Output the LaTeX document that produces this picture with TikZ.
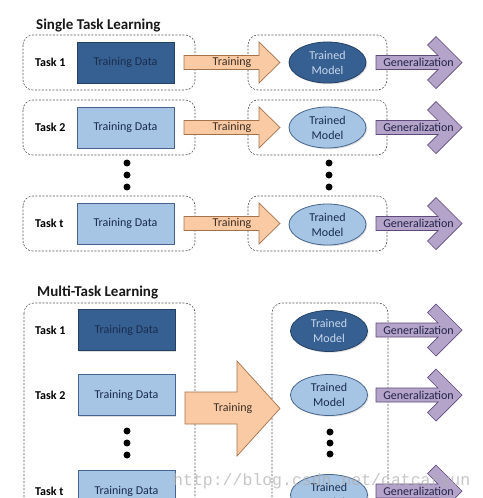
\documentclass[tikz,border=0pt]{standalone}
\usepackage{fontspec}
\setmainfont{Carlito}
\newfontfamily\wmfont{Liberation Mono}
\usetikzlibrary{shapes.geometric,shadows}
\definecolor{dkfill}{RGB}{54,96,146}
\definecolor{dkedge}{RGB}{36,64,98}
\definecolor{dktext}{RGB}{25,45,78}
\definecolor{dkmtext}{RGB}{200,215,235}
\definecolor{ltfill}{RGB}{166,196,228}
\definecolor{ltedge}{RGB}{70,100,140}
\definecolor{lttext}{RGB}{25,45,78}
\definecolor{peach}{RGB}{250,202,164}
\definecolor{peachedge}{RGB}{165,115,75}
\definecolor{peachtext}{RGB}{60,45,35}
\definecolor{lav}{RGB}{180,164,202}
\definecolor{lavedge}{RGB}{96,74,123}
\definecolor{lavtext}{RGB}{35,35,70}
\definecolor{dashgray}{RGB}{85,85,85}
\definecolor{wm}{RGB}{175,175,175}
\newcommand\TrainArrow[1]{%
  \draw[trainar] (184,{#1-7}) -- (259,{#1-7}) -- (259,{#1-20.5}) -- (280,#1)
    -- (259,{#1+20.5}) -- (259,{#1+7}) -- (184,{#1+7}) -- cycle;}
\newcommand\GenArrow[1]{%
  \draw[genar] (376,{#1-7}) -- (438,{#1-7}) -- (427.5,{#1-17.5}) -- (436,{#1-26})
    -- (462,#1) -- (436,{#1+26}) -- (427.5,{#1+17.5}) -- (438,{#1+7})
    -- (376,{#1+7}) -- cycle;}
\begin{document}
\begin{tikzpicture}[x=1pt,y=-1pt,
  grp/.style={draw=dashgray, line width=0.6pt, dash pattern=on 2pt off 1.5pt, rounded corners=10pt},
  tdbox/.style={rectangle, line width=0.8pt, minimum width=97pt, minimum height=41pt, inner sep=0pt,
    font=\fontsize{12}{14}\selectfont, drop shadow={shadow xshift=1.2pt, shadow yshift=-1.2pt, opacity=0.25}},
  tddark/.style={tdbox, fill=dkfill, draw=dkedge, text=dktext},
  tdlight/.style={tdbox, fill=ltfill, draw=ltedge, text=lttext},
  model/.style={ellipse, minimum width=77pt, minimum height=41pt, inner sep=0pt, align=center,
    font=\fontsize{12}{15}\selectfont, line width=0.8pt,
    drop shadow={shadow xshift=1.2pt, shadow yshift=-1.2pt, opacity=0.25}},
  mdark/.style={model, fill=dkfill, draw=dkedge, text=dkmtext},
  mlight/.style={model, fill=ltfill, draw=ltedge, text=lttext},
  tasklbl/.style={font=\bfseries\fontsize{12}{14}\selectfont, anchor=west, inner sep=0pt},
  ttl/.style={font=\bfseries\fontsize{15}{18}\selectfont, anchor=base west, inner sep=0pt, text=black!90},
  trainar/.style={fill=peach, draw=peachedge, line width=0.7pt},
  genar/.style={fill=lav, draw=lavedge, line width=0.7pt},
  trlbl/.style={font=\fontsize{12}{14}\selectfont, text=peachtext, inner sep=0pt},
  genlbl/.style={font=\fontsize{12}{14}\selectfont, text=lavtext, inner sep=0pt},
  dot/.style={circle, fill=black, inner sep=0pt, minimum size=7pt}
]
\useasboundingbox (0,0) rectangle (482,498);
\clip (0,0) rectangle (482,498);
\fill[white] (0,0) rectangle (482,498);

% ---------------- Single Task Learning ----------------
\node[ttl] (t1) at (36,29) {Single Task Learning};

% group boxes
\draw[grp] (23,35) rectangle (195,90);
\draw[grp] (248,35) rectangle (387,90);
\draw[grp] (23,100) rectangle (195,155);
\draw[grp] (248,100) rectangle (387,155);
\draw[grp] (23,196) rectangle (195,251);
\draw[grp] (248,196) rectangle (387,251);

% rows
\node[tasklbl] (sl1) at (35,62.5) {Task 1};
\node[tddark] (sd1) at (125.5,62.5) {Training Data};
\TrainArrow{62.5}
\node[trlbl] (st1) at (232,62.5) {Training};
\node[mdark] (sm1) at (327.5,62.5) {Trained\\Model};
\GenArrow{62.5}
\node[genlbl] (sg1) at (418.5,62.5) {Generalization};

\node[tasklbl] (sl2) at (35,127.5) {Task 2};
\node[tdlight] (sd2) at (125.5,127.5) {Training Data};
\TrainArrow{127.5}
\node[trlbl] (st2) at (232,127.5) {Training};
\node[mlight] (sm2) at (327.5,127.5) {Trained\\Model};
\GenArrow{127.5}
\node[genlbl] (sg2) at (418.5,127.5) {Generalization};

\node[dot] (sda) at (127,163) {};
\node[dot] (sdb) at (127,175) {};
\node[dot] (sdc) at (127,187) {};
\node[dot] (sma) at (329,163) {};
\node[dot] (smb) at (329,175) {};
\node[dot] (smc) at (329,187) {};

\node[tasklbl] (slt) at (35,223.5) {Task t};
\node[tdlight] (sdt) at (125.5,223.5) {Training Data};
\TrainArrow{223.5}
\node[trlbl] (stt) at (232,223.5) {Training};
\node[mlight] (smt) at (327.5,224.5) {Trained\\Model};
\GenArrow{223.5}
\node[genlbl] (sgt) at (418.5,223.5) {Generalization};

% ---------------- Multi-Task Learning ----------------
\node[ttl] (t2) at (37,296) {Multi-Task Learning};

\draw[grp] (24,303) rectangle (195,530);
\draw[grp] (272,303) rectangle (388,530);

\node[tasklbl] (ml1) at (35,330) {Task 1};
\node[tddark] (md1) at (126.5,330) {Training Data};
\node[tasklbl] (ml2) at (35,395) {Task 2};
\node[tdlight] (md2) at (126.5,395) {Training Data};
\node[dot] (mda) at (127,431) {};
\node[dot] (mdb) at (127,443) {};
\node[dot] (mdc) at (127,455) {};
\node[tasklbl] (mlt) at (35,491) {Task t};
\node[tdlight] (mdt) at (126.5,491) {Training Data};

\draw[trainar] (185,392) -- (237,392) -- (237,361) -- (280,408.5) -- (237,456) -- (237,424) -- (185,424) -- cycle;
\node[trlbl] (mtr) at (233,408) {Training};

\node[mdark] (mm1) at (329,331) {Trained\\Model};
\node[mlight] (mm2) at (329,395) {Trained\\Model};
\node[dot] (mma) at (330,432) {};
\node[dot] (mmb) at (330,443) {};
\node[dot] (mmc) at (330,454) {};
\node[mlight] (mmt) at (329,495) {Trained\\Model};

\GenArrow{330}
\node[genlbl] (mg1) at (418.5,330) {Generalization};
\GenArrow{395}
\node[genlbl] (mg2) at (418.5,395) {Generalization};
\GenArrow{491}
\node[genlbl] (mgt) at (418.5,491) {Generalization};

% watermark
\node[anchor=base west, inner sep=0pt, font=\wmfont\fontsize{16.5}{18}\selectfont, text=wm, opacity=0.7] (wmk) at (173,485) {http://blog.csdn.net/catcaryun};
\end{tikzpicture}
\end{document}
